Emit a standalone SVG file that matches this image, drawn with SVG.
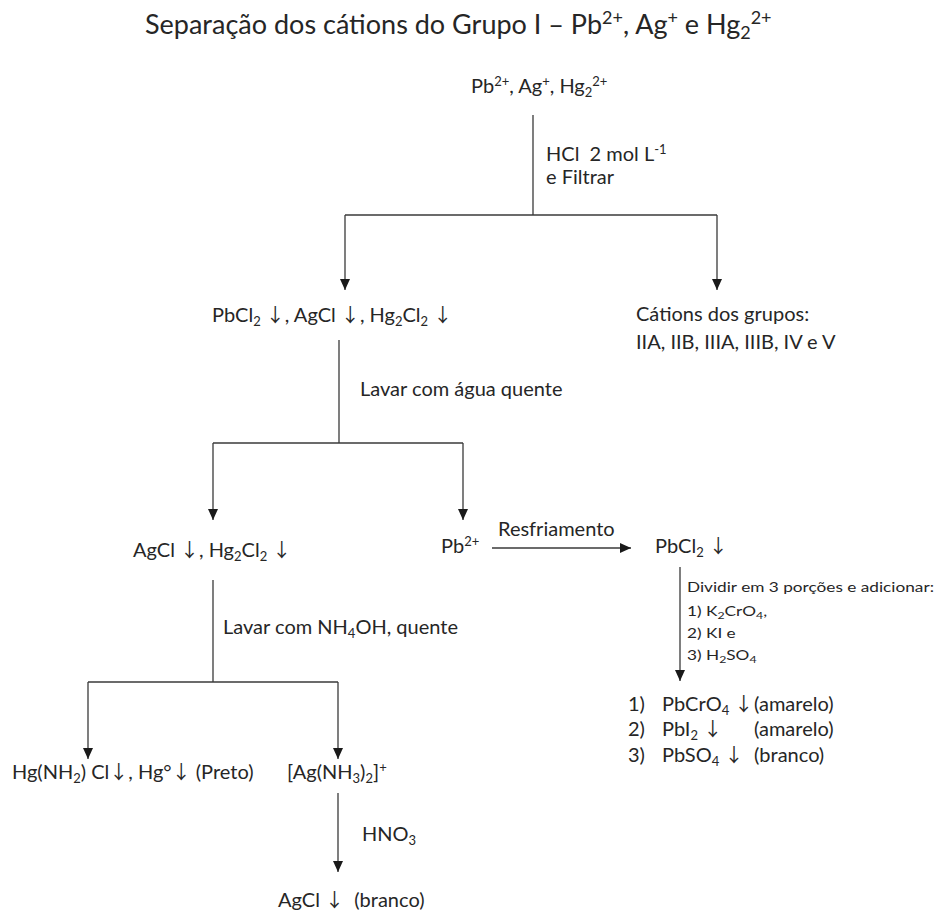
<svg xmlns="http://www.w3.org/2000/svg" width="942" height="913" viewBox="0 0 942 913">
<style>
text{font-family:Lato,"Open Sans","DejaVu Sans",sans-serif;fill:#262626;font-size:20px;white-space:pre}
.title{font-size:27px}
.sm{font-size:14px}
.sub{font-size:13px;baseline-shift:-4px}
.sup{font-size:13px;baseline-shift:7px}
.title .sub{font-size:18px;baseline-shift:-5px}
.title .sup{font-size:18px;baseline-shift:10px}
.sm .sub{font-size:10px;baseline-shift:-3px}
.arr{font-family:"Noto Sans CJK SC","DejaVu Sans",sans-serif;font-size:19px}
.c path{fill:none;stroke:#3a3a3a;stroke-width:1.3}
</style>
<defs>
<marker id="ah" markerUnits="userSpaceOnUse" markerWidth="11" markerHeight="10" refX="11" refY="5" orient="auto">
<path d="M0,0 L11,5 L0,10 z" fill="#1a1a1a"/>
</marker>
</defs>
<rect width="942" height="913" fill="#fff"/>
<text class="title" x="145" y="34">Separação dos cátions do Grupo I – Pb<tspan class="sup">2+</tspan>, Ag<tspan class="sup">+</tspan> e Hg<tspan class="sub">2</tspan><tspan class="sup">2+</tspan></text>
<g class="c" id="connectors">
<path d="M533 115 V215"/>
<path d="M345 215 H717"/>
<path d="M345 215 V290" marker-end="url(#ah)"/>
<path d="M717 215 V290" marker-end="url(#ah)"/>
<path d="M339 340 V443"/>
<path d="M213 443 H463"/>
<path d="M213 443 V520" marker-end="url(#ah)"/>
<path d="M463 443 V520" marker-end="url(#ah)"/>
<path d="M492 548 H631" marker-end="url(#ah)"/>
<path d="M213 580 V682"/>
<path d="M88 682 H338"/>
<path d="M88 682 V759" marker-end="url(#ah)"/>
<path d="M338 682 V759" marker-end="url(#ah)"/>
<path d="M338 793 V872" marker-end="url(#ah)"/>
<path d="M680 567 V681" marker-end="url(#ah)"/>
</g>
<g id="labels">
<text x="546" y="161">HCl  2 mol L<tspan class="sup">-1</tspan></text>
<text x="546" y="184">e Filtrar</text>
<text x="360" y="396">Lavar com água quente</text>
<text x="498" y="536">Resfriamento</text>
<text x="223" y="634">Lavar com NH<tspan class="sub">4</tspan>OH, quente</text>
<text x="362" y="841">HNO<tspan class="sub">3</tspan></text>
<g transform="matrix(1.23,0,0,1,687,0)">
<text class="sm" x="0" y="592">Dividir em 3 porções e adicionar:</text>
<text class="sm" x="0" y="616">1) K<tspan class="sub">2</tspan>CrO<tspan class="sub">4</tspan>,</text>
<text class="sm" x="0" y="638">2) KI e</text>
<text class="sm" x="0" y="660">3) H<tspan class="sub">2</tspan>SO<tspan class="sub">4</tspan></text>
</g>
</g>
<g id="n-start"><text x="471" y="93">Pb<tspan class="sup">2+</tspan>, Ag<tspan class="sup">+</tspan>, Hg<tspan class="sub">2</tspan><tspan class="sup">2+</tspan></text></g>
<g id="n-ppt1"><text x="212" y="322">PbCl<tspan class="sub">2</tspan> <tspan class="arr">↓</tspan>, AgCl <tspan class="arr">↓</tspan>, Hg<tspan class="sub">2</tspan>Cl<tspan class="sub">2</tspan> <tspan class="arr">↓</tspan></text></g>
<g id="n-groups"><text x="636" y="321">Cátions dos grupos:</text><text x="636" y="349">IIA, IIB, IIIA, IIIB, IV e V</text></g>
<g id="n-ppt2"><text x="133" y="557">AgCl <tspan class="arr">↓</tspan>, Hg<tspan class="sub">2</tspan>Cl<tspan class="sub">2</tspan> <tspan class="arr">↓</tspan></text></g>
<g id="n-pb"><text x="441" y="553">Pb<tspan class="sup">2+</tspan></text></g>
<g id="n-pbcl2"><text x="655" y="553">PbCl<tspan class="sub">2</tspan> <tspan class="arr">↓</tspan></text></g>
<g id="n-results">
<text x="628" y="711">1)</text><text x="662" y="711">PbCrO<tspan class="sub">4</tspan> <tspan class="arr">↓</tspan></text><text x="754" y="711">(amarelo)</text>
<text x="628" y="736">2)</text><text x="662" y="736">PbI<tspan class="sub">2</tspan> <tspan class="arr">↓</tspan></text><text x="754" y="736">(amarelo)</text>
<text x="628" y="762">3)</text><text x="662" y="762">PbSO<tspan class="sub">4</tspan> <tspan class="arr">↓</tspan></text><text x="754" y="762">(branco)</text>
</g>
<g id="n-hg"><text x="12" y="779">Hg(NH<tspan class="sub">2</tspan>) Cl<tspan class="arr">↓</tspan>, Hg°<tspan class="arr">↓</tspan> (Preto)</text></g>
<g id="n-agnh3"><text x="287" y="779">[Ag(NH<tspan class="sub">3</tspan>)<tspan class="sub">2</tspan>]<tspan class="sup">+</tspan></text></g>
<g id="n-agcl"><text x="278" y="907">AgCl <tspan class="arr">↓</tspan>  (branco)</text></g>
</svg>
